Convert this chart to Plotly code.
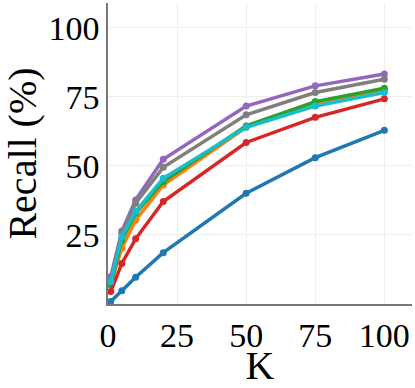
import plotly.graph_objects as go

# K values on the x axis
K = [1, 5, 10, 20, 50, 75, 100]

# recall (%) per method
recall_blue = [0.9, 4.8, 9.7, 18.6, 40.1, 53.0, 62.9]
recall_orange = [7.5, 20.2, 30.4, 43.1, 64.0, 72.5, 77.5]
recall_green = [6.9, 23.2, 32.9, 44.3, 64.5, 73.3, 78.1]
recall_red = [4.5, 14.7, 23.6, 37.1, 58.5, 67.6, 74.3]
recall_purple = [9.9, 26.4, 37.7, 52.4, 71.7, 79.0, 83.3]
recall_gray = [8.7, 25.6, 36.5, 49.5, 68.5, 76.6, 81.4]
recall_cyan = [8.1, 24.4, 33.5, 45.5, 64.0, 71.7, 76.6]

series = [
    (recall_blue, '#1f77b4'),
    (recall_orange, '#ff7f0e'),
    (recall_green, '#2ca02c'),
    (recall_red, '#d62728'),
    (recall_purple, '#9467bd'),
    (recall_gray, '#7f7f7f'),
    (recall_cyan, '#17becf'),
]

fig = go.Figure()
for y, c in series:
    fig.add_trace(go.Scatter(x=K, y=y, mode='lines+markers',
                             line=dict(color=c, width=3.5),
                             marker=dict(color=c, size=7),
                             showlegend=False, cliponaxis=False))

font = 'Liberation Serif'
fig.update_layout(width=415, height=388,
                  margin=dict(l=108, r=3, t=3, b=84),
                  plot_bgcolor='white', paper_bgcolor='white',
                  font=dict(family=font, color='black'))
fig.update_xaxes(range=[0, 110], tickvals=[0, 25, 50, 75, 100],
                 showline=True, linecolor='#777', linewidth=1.5,
                 gridcolor='#eeeeee', zeroline=False, automargin=False,
                 ticks='', tickfont=dict(size=34),
                 title=dict(text='K', font=dict(size=40), standoff=0))
fig.update_yaxes(range=[0, 109], tickvals=[25, 50, 75, 100],
                 showline=True, linecolor='#777', linewidth=1.5,
                 gridcolor='#eeeeee', zeroline=False, automargin=False,
                 ticks='', tickfont=dict(size=34),
                 title=dict(text='Recall (%)', font=dict(size=40), standoff=2))

# page has a default body margin; drop it so the figure fills the window
fig.write_html("out.html", config={'displayModeBar': False},
               post_script="document.body.style.margin='0';")
